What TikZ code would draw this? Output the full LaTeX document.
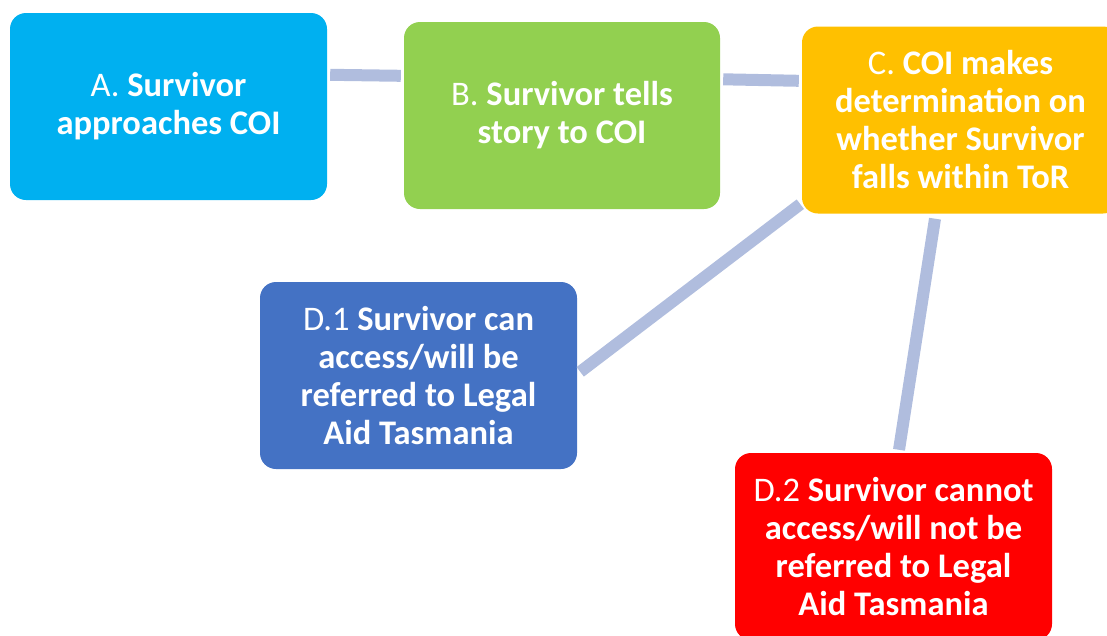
\documentclass[tikz,border=0pt]{standalone}
\usepackage{fontspec}
\setmainfont{Carlito}
\definecolor{cA}{HTML}{00B0F0}
\definecolor{cB}{HTML}{92D050}
\definecolor{cC}{HTML}{FFC000}
\definecolor{cD}{HTML}{4472C4}
\definecolor{cE}{HTML}{FF0000}
\definecolor{conn}{HTML}{B0BDDE}
\begin{document}
\begin{tikzpicture}[x=1pt,y=-1pt,
  box/.style={rectangle, rounded corners=16pt, minimum width=317pt, minimum height=187pt,
    inner sep=0pt, text=white, align=center, font=\fontsize{34.5}{38}\selectfont},
  link/.style={draw=conn, line width=12pt, line cap=butt}]
\useasboundingbox (0,0) rectangle (1107,635);
\clip (0,0) rectangle (1107,635);
\node[box, fill=cA] (A) at (168.5,106.5) {A. \textbf{Survivor}\\\textbf{approaches COI}};
\node[box, fill=cB, minimum width=316pt] (B) at (562,115.5) {B. \textbf{Survivor tells}\\\textbf{story to COI}};
\node[box, fill=cC] (C) at (960.5,120) {C. \textbf{COI makes}\\\textbf{determination on}\\\textbf{whether Survivor}\\\textbf{falls within ToR}};
\node[box, fill=cD] (D1) at (418.5,375.5) {D.1 \textbf{Survivor can}\\\textbf{access/will be}\\\textbf{referred to Legal}\\\textbf{Aid Tasmania}};
\node[box, fill=cE] (D2) at (893.5,546.5) {D.2 \textbf{Survivor cannot}\\\textbf{access/will not be}\\\textbf{referred to Legal}\\\textbf{Aid Tasmania}};
\draw[link] ([shift={(3,62)}]A.north east) -- ([shift={(-3,54)}]B.north west);
\draw[link] ([shift={(3,57.5)}]B.north east) -- ([shift={(-3,54.5)}]C.north west);
\draw[link] ([shift={(-1.5,-9.5)}]C.south west) -- ([shift={(3,90)}]D1.north east);
\draw[link] ([shift={(-25.5,5)}]C.south) -- ([shift={(5.5,-3)}]D2.north);
\end{tikzpicture}
\end{document}
